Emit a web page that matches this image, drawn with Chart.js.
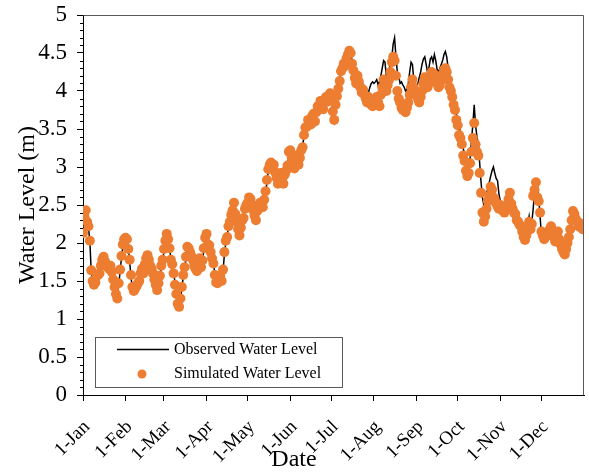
<!DOCTYPE html>
<html>
<head>
<meta charset="utf-8">
<script src="https://cdn.jsdelivr.net/npm/chart.js@4.4.1/dist/chart.umd.min.js"></script>
<style>
  html, body { margin: 0; padding: 0; background: #fff; }
  #wrap { width: 589px; height: 472px; }
</style>
</head>
<body>
<div id="wrap"><canvas id="waterChart" width="589" height="472"></canvas></div>
<script>
// day-of-year positions of the month ticks and their labels
const monthStarts = [0, 31, 59, 90, 120, 151, 181, 212, 243, 273, 304, 334];
const monthLabels = ['1-Jan', '1-Feb', '1-Mar', '1-Apr', '1-May', '1-Jun',
                     '1-Jul', '1-Aug', '1-Sep', '1-Oct', '1-Nov', '1-Dec'];

// daily observed water level (m), one row per month
const observed = [
  2.15, 2.30, 2.42, 2.32, 2.20, 2.02, 1.62, 1.52, 1.47, 1.45, 1.55, 1.60, 1.58, 1.68, 1.75, 1.80, 1.78, 1.72, 1.70, 1.65, 1.72, 1.64, 1.55, 1.45, 1.30, 1.28, 1.45, 1.62, 1.80, 1.95, 2.02,
  2.05, 2.08, 1.95, 1.75, 1.55, 1.40, 1.38, 1.42, 1.40, 1.45, 1.52, 1.58, 1.65, 1.62, 1.70, 1.78, 1.82, 1.80, 1.72, 1.68, 1.62, 1.55, 1.48, 1.40, 1.45, 1.55, 1.68, 1.75,
  1.90, 2.00, 2.10, 2.08, 1.95, 1.80, 1.70, 1.62, 1.48, 1.35, 1.22, 1.18, 1.25, 1.40, 1.55, 1.65, 1.80, 1.92, 1.95, 1.90, 1.85, 1.80, 1.72, 1.68, 1.65, 1.72, 1.78, 1.70, 1.75, 1.90, 2.05,
  2.10, 2.00, 1.95, 1.90, 1.82, 1.75, 1.60, 1.50, 1.45, 1.48, 1.55, 1.52, 1.62, 1.85, 2.00, 2.10, 2.20, 2.30, 2.35, 2.45, 2.52, 2.40, 2.30, 2.20, 2.12, 2.18, 2.28, 2.35, 2.42, 2.48,
  2.55, 2.58, 2.60, 2.52, 2.45, 2.38, 2.32, 2.40, 2.48, 2.55, 2.50, 2.45, 2.55, 2.65, 2.80, 2.95, 3.05, 3.08, 3.02, 3.05, 2.95, 2.88, 2.80, 2.85, 2.90, 2.85, 2.80, 2.88, 2.92, 3.00, 3.18,
  3.20, 3.15, 3.05, 3.00, 3.08, 3.12, 3.05, 3.10, 3.20, 3.28, 3.40, 3.50, 3.55, 3.60, 3.62, 3.58, 3.65, 3.68, 3.62, 3.70, 3.78, 3.80, 3.85, 3.82, 3.78, 3.85, 3.90, 3.88, 3.92, 3.95,
  3.92, 3.75, 3.62, 3.80, 3.95, 4.05, 4.15, 4.28, 4.32, 4.38, 4.35, 4.45, 4.50, 4.55, 4.52, 4.40, 4.30, 4.20, 4.15, 4.25, 4.18, 4.10, 4.05, 4.08, 4.02, 3.98, 3.95, 3.98, 4.05, 4.10, 4.12,
  4.10, 4.12, 4.15, 4.08, 4.12, 4.20, 4.30, 4.40, 4.38, 4.20, 4.15, 4.25, 4.40, 4.45, 4.62, 4.70, 4.45, 4.25, 4.20, 4.10, 4.12, 4.08, 4.05, 4.00, 4.02, 4.10, 4.25, 4.38, 4.35, 4.15, 4.10,
  4.05, 4.10, 4.18, 4.25, 4.35, 4.42, 4.45, 4.35, 4.25, 4.30, 4.42, 4.45, 4.38, 4.48, 4.40, 4.28, 4.25, 4.30, 4.35, 4.40, 4.48, 4.52, 4.45, 4.30, 4.15, 4.05, 3.95, 3.85, 3.78, 3.70,
  3.62, 3.55, 3.45, 3.35, 3.25, 3.15, 3.05, 2.98, 2.95, 3.10, 3.35, 3.55, 3.82, 3.55, 3.40, 3.30, 3.05, 2.80, 2.60, 2.50, 2.58, 2.65, 2.72, 2.80, 2.88, 2.95, 3.00, 2.92, 2.85, 2.82, 2.65,
  2.55, 2.50, 2.48, 2.45, 2.48, 2.52, 2.60, 2.65, 2.55, 2.48, 2.42, 2.40, 2.35, 2.30, 2.28, 2.25, 2.20, 2.12, 2.05, 2.10, 2.25, 2.35, 2.20, 2.28, 2.45, 2.70, 2.80, 2.78, 2.60, 2.35,
  2.10, 2.15, 2.08, 2.05, 2.12, 2.15, 2.20, 2.25, 2.18, 2.10, 2.05, 2.12, 2.18, 2.10, 2.00, 1.95, 1.90, 1.88, 1.95, 2.05, 2.10, 2.20, 2.35, 2.45, 2.40, 2.35, 2.30, 2.25, 2.28, 2.22, 2.20
];

// daily simulated water level (m)
const simulated = [
  2.13, 2.35, 2.43, 2.28, 2.22, 2.03, 1.64, 1.50, 1.45, 1.48, 1.57, 1.58, 1.60, 1.70, 1.78, 1.82, 1.76, 1.70, 1.68, 1.66, 1.70, 1.62, 1.52, 1.42, 1.33, 1.27, 1.47, 1.65, 1.83, 1.98, 2.05,
  2.07, 2.05, 1.92, 1.78, 1.58, 1.42, 1.37, 1.40, 1.43, 1.47, 1.50, 1.60, 1.66, 1.60, 1.72, 1.80, 1.84, 1.78, 1.70, 1.66, 1.60, 1.52, 1.45, 1.38, 1.47, 1.57, 1.70, 1.78,
  1.92, 2.03, 2.12, 2.05, 1.93, 1.78, 1.72, 1.60, 1.45, 1.33, 1.20, 1.16, 1.27, 1.42, 1.58, 1.68, 1.82, 1.95, 1.93, 1.88, 1.83, 1.78, 1.70, 1.66, 1.63, 1.74, 1.80, 1.68, 1.77, 1.93, 2.07,
  2.12, 1.98, 1.97, 1.88, 1.80, 1.73, 1.58, 1.48, 1.47, 1.50, 1.57, 1.50, 1.65, 1.88, 2.03, 2.08, 2.22, 2.28, 2.37, 2.43, 2.53, 2.38, 2.28, 2.18, 2.10, 2.20, 2.30, 2.33, 2.45, 2.50,
  2.53, 2.60, 2.58, 2.50, 2.43, 2.36, 2.30, 2.42, 2.50, 2.53, 2.48, 2.47, 2.57, 2.68, 2.83, 2.97, 3.03, 3.06, 3.00, 3.03, 2.93, 2.86, 2.78, 2.87, 2.92, 2.83, 2.78, 2.90, 2.95, 3.02, 3.20,
  3.22, 3.13, 3.03, 2.98, 3.10, 3.15, 3.03, 3.12, 3.22, 3.26, 3.42, 3.52, 3.53, 3.62, 3.60, 3.56, 3.67, 3.70, 3.60, 3.72, 3.80, 3.78, 3.87, 3.80, 3.76, 3.87, 3.92, 3.86, 3.90, 3.97,
  3.90, 3.73, 3.62, 3.82, 3.93, 4.03, 4.13, 4.26, 4.30, 4.36, 4.33, 4.43, 4.48, 4.53, 4.50, 4.36, 4.27, 4.17, 4.10, 4.20, 4.12, 4.05, 3.98, 4.02, 3.95, 3.90, 3.85, 3.92, 3.88, 3.82, 3.80,
  3.82, 3.88, 3.92, 3.85, 3.80, 3.95, 4.05, 4.15, 4.10, 4.00, 4.08, 4.15, 4.25, 4.38, 4.45, 4.40, 4.20, 4.00, 3.90, 3.85, 3.78, 3.75, 3.80, 3.72, 3.78, 3.85, 3.95, 4.05, 4.15, 4.05, 3.98,
  3.95, 3.90, 3.85, 3.92, 4.00, 4.10, 4.18, 4.12, 4.05, 4.10, 4.20, 4.25, 4.15, 4.22, 4.18, 4.10, 4.05, 4.08, 4.15, 4.22, 4.28, 4.30, 4.25, 4.15, 4.05, 4.00, 3.92, 3.82, 3.75, 3.62,
  3.55, 3.42, 3.38, 3.30, 3.15, 3.08, 2.95, 2.88, 2.92, 3.05, 3.20, 3.38, 3.58, 3.30, 3.20, 3.15, 2.92, 2.66, 2.40, 2.28, 2.35, 2.45, 2.55, 2.62, 2.74, 2.70, 2.60, 2.57, 2.52, 2.48, 2.45,
  2.50, 2.45, 2.42, 2.40, 2.45, 2.50, 2.58, 2.66, 2.52, 2.45, 2.40, 2.38, 2.30, 2.28, 2.24, 2.22, 2.15, 2.08, 2.04, 2.10, 2.20, 2.28, 2.18, 2.25, 2.62, 2.70, 2.80, 2.60, 2.55, 2.40,
  2.15, 2.10, 2.05, 2.08, 2.10, 2.12, 2.18, 2.22, 2.15, 2.08, 2.02, 2.10, 2.15, 2.05, 1.98, 1.92, 1.88, 1.85, 1.92, 2.00, 2.08, 2.18, 2.30, 2.42, 2.38, 2.32, 2.28, 2.22, 2.26, 2.20, 2.18
];

const serif = "'Liberation Serif', 'Times New Roman', serif";
const orange = '#ED7D31';

/**
 * Box around the plot + minor ticks on the y axis
 */
const framePlugin = {
    id: 'frame',
    afterDraw(chart) {
        const ctx = chart.ctx;
        const area = chart.chartArea;
        const y = chart.scales.y;
        ctx.save();
        ctx.strokeStyle = '#595959';
        ctx.lineWidth = 1;
        ctx.beginPath();
        ctx.moveTo(Math.round(area.left) + 0.5, Math.round(area.top) + 0.5);
        ctx.lineTo(Math.round(area.right) - 0.5, Math.round(area.top) + 0.5);
        ctx.lineTo(Math.round(area.right) - 0.5, Math.round(area.bottom));
        ctx.stroke();

        ctx.strokeStyle = '#000';
        ctx.beginPath();
        for (let k = 1; k < 50; k++) {
            if (k % 5 === 0) {
                continue;
            }
            const py = Math.round(y.getPixelForValue(k / 10)) + 0.5;
            ctx.moveTo(area.left - 3, py);
            ctx.lineTo(area.left, py);
        }
        ctx.stroke();
        ctx.restore();
    }
};

/**
 * Legend box in the lower left corner and the x axis title
 */
const legendPlugin = {
    id: 'legendBox',
    afterDraw(chart) {
        const ctx = chart.ctx;
        ctx.save();
        ctx.strokeStyle = '#595959';
        ctx.lineWidth = 1;
        ctx.strokeRect(95.5, 337.5, 247, 50);

        ctx.strokeStyle = '#000';
        ctx.lineWidth = 1.5;
        ctx.beginPath();
        ctx.moveTo(117, 349.5);
        ctx.lineTo(169, 349.5);
        ctx.stroke();

        ctx.fillStyle = orange;
        ctx.beginPath();
        ctx.arc(142, 374, 4.5, 0, Math.PI * 2);
        ctx.fill();

        ctx.fillStyle = '#000';
        ctx.font = '16px ' + serif;
        ctx.textBaseline = 'middle';
        ctx.textAlign = 'left';
        ctx.fillText('Observed Water Level', 174, 350);
        ctx.fillText('Simulated Water Level', 174, 374);

        ctx.font = '24px ' + serif;
        ctx.textAlign = 'center';
        ctx.fillText('Date', 294, 460);
        ctx.restore();
    }
};

new Chart(document.getElementById('waterChart'), {
    type: 'line',
    data: {
        datasets: [
            {
                label: 'Simulated Water Level',
                data: simulated.map((v, i) => ({ x: i, y: v })),
                showLine: false,
                pointRadius: 5,
                pointBorderWidth: 0,
                pointBackgroundColor: orange,
                pointBorderColor: orange,
                order: 0
            },
            {
                label: 'Observed Water Level',
                data: observed.map((v, i) => ({ x: i, y: v })),
                borderColor: '#000',
                borderWidth: 1.5,
                pointRadius: 0,
                tension: 0,
                fill: false,
                order: 1
            }
        ]
    },
    options: {
        responsive: false,
        animation: false,
        layout: { padding: { top: 15, right: 1, left: 0, bottom: 0 } },
        plugins: {
            legend: { display: false },
            tooltip: { enabled: false }
        },
        scales: {
            x: {
                type: 'linear',
                min: 0,
                max: 365,
                afterBuildTicks: (scale) => {
                    scale.ticks = monthStarts.map(v => ({ value: v }));
                },
                afterFit: (scale) => {
                    scale.height = 77;
                    scale.paddingLeft = 0;
                    scale.paddingRight = 0;
                },
                ticks: {
                    autoSkip: false,
                    minRotation: 45,
                    maxRotation: 45,
                    padding: 15,
                    labelOffset: 4,
                    color: '#000',
                    font: { family: serif, size: 19 },
                    callback: (value, index) => monthLabels[index]
                },
                grid: {
                    display: true,
                    drawOnChartArea: false,
                    drawTicks: true,
                    tickLength: 6,
                    tickColor: '#000'
                },
                border: { display: true, color: '#000', width: 1 }
            },
            y: {
                min: 0,
                max: 5,
                afterFit: (scale) => {
                    scale.width = 83;
                    scale.paddingTop = 0;
                    scale.paddingBottom = 0;
                },
                ticks: {
                    stepSize: 0.5,
                    padding: 10,
                    color: '#000',
                    font: { family: serif, size: 23 },
                    callback: (v) => String(Math.round(v * 10) / 10)
                },
                grid: {
                    display: true,
                    drawOnChartArea: false,
                    drawTicks: true,
                    tickLength: 6,
                    tickColor: '#000'
                },
                border: { display: true, color: '#000', width: 1 },
                title: {
                    display: true,
                    text: 'Water Level (m)',
                    color: '#000',
                    font: { family: serif, size: 24 },
                    padding: { top: 13, bottom: 0 }
                }
            }
        }
    },
    plugins: [framePlugin, legendPlugin]
});
</script>
</body>
</html>
